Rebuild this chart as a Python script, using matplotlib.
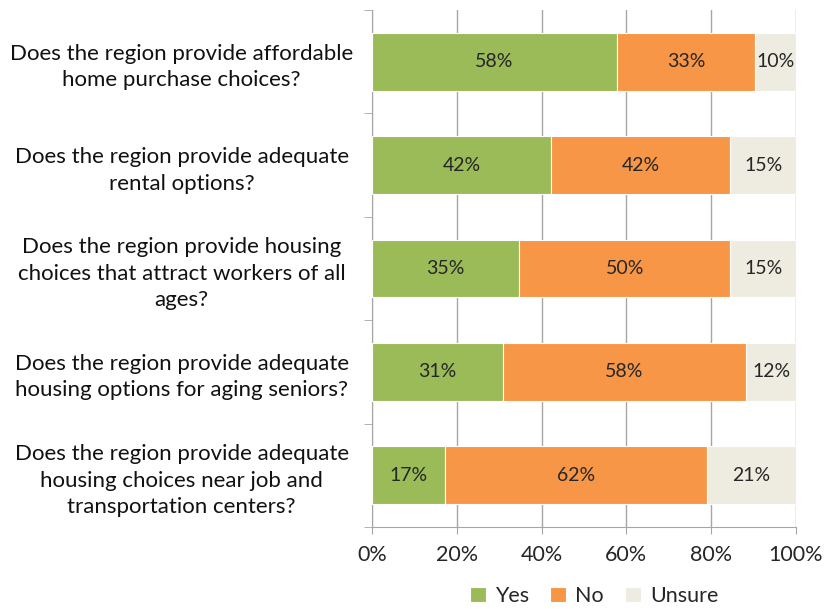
import matplotlib
matplotlib.use("Agg")
import matplotlib.pyplot as plt
import numpy as np
from matplotlib.ticker import FixedLocator, PercentFormatter

plt.rcParams['font.family'] = ['Lato', 'DejaVu Sans']

questions = [
    "Does the region provide affordable\nhome purchase choices?",
    "Does the region provide adequate\nrental options?",
    "Does the region provide housing\nchoices that attract workers of all\nages?",
    "Does the region provide adequate\nhousing options for aging seniors?",
    "Does the region provide adequate\nhousing choices near job and\ntransportation centers?",
]
yes = [57.7, 42.3, 34.7, 30.8, 17.3]
no = [32.7, 42.2, 49.8, 57.5, 61.7]
unsure = [9.6, 15.5, 15.5, 11.7, 21.0]
yes_labels = ["58%", "42%", "35%", "31%", "17%"]
no_labels = ["33%", "42%", "50%", "58%", "62%"]
unsure_labels = ["10%", "15%", "15%", "12%", "21%"]
series_names = ["Yes", "No", "Unsure"]
colors = ["#9BBB59", "#F79646", "#EEECE1"]

fig = plt.figure(figsize=(8.36, 6.09), dpi=100)
ax = fig.add_axes([372/836, 1-527/609, (796-372)/836, (527-10)/609])

y = np.arange(len(questions))
left = np.zeros(len(questions))
for vals, labs, name, col in zip([yes, no, unsure],
                                 [yes_labels, no_labels, unsure_labels],
                                 series_names, colors):
    vals = np.array(vals)
    bars = ax.barh(y, vals, left=left, height=0.56, color=col,
                   edgecolor="white", linewidth=0.8, label=name, zorder=3)
    ax.bar_label(bars, labels=labs, label_type="center", fontsize=14,
                 color="#262626")
    left = left + vals

ax.set_xlim(0, 100)
ax.set_ylim(len(questions) - 0.5, -0.5)
ax.xaxis.set_major_locator(FixedLocator([0, 20, 40, 60, 80, 100]))
ax.xaxis.set_major_formatter(PercentFormatter(decimals=0))
ax.grid(axis="x", color="#A6A6A6", linewidth=1, zorder=0)
ax.tick_params(axis="x", length=5, color="#A6A6A6", labelsize=15.5, pad=8,
               labelcolor="#262626")

ax.set_yticks(y)
ax.set_yticklabels(questions, ha="center", fontsize=16, color="#111111",
                   linespacing=1.4)
ax.tick_params(axis="y", which="major", length=0, pad=137)
ax.set_yticks(np.arange(len(questions) + 1) - 0.5, minor=True)
ax.tick_params(axis="y", which="minor", length=6, color="#A6A6A6")

for s in ["top", "right"]:
    ax.spines[s].set_visible(False)
for s in ["left", "bottom"]:
    ax.spines[s].set_color("#A6A6A6")

fig.legend(loc="center", bbox_to_anchor=(594/836, 1-596/609), ncol=3,
           frameon=False, fontsize=15.5, handlelength=0.75, handleheight=0.75,
           handletextpad=0.4, columnspacing=1.0, labelcolor="#262626")

fig.savefig("out.png", dpi=100)
